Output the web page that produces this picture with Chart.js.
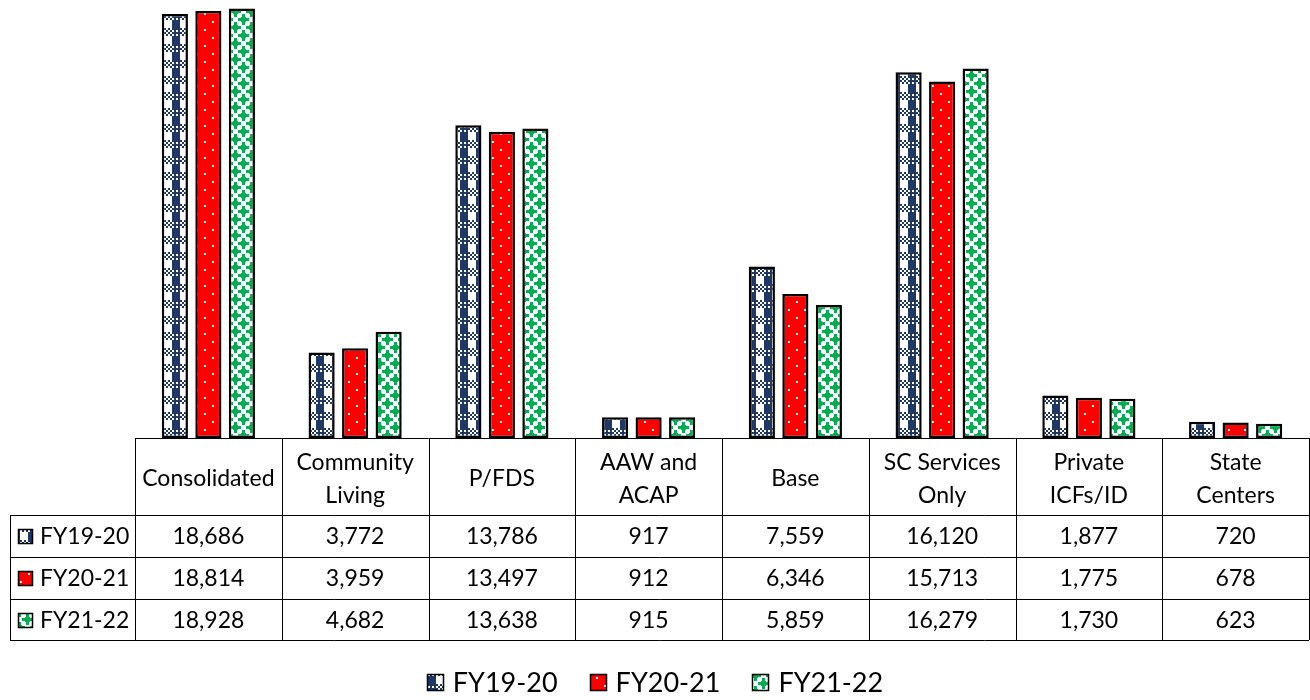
<!DOCTYPE html>
<html>
<head>
<meta charset="utf-8">
<script src="https://cdn.jsdelivr.net/npm/chart.js@4"></script>
<style>
  body { margin: 0; background: #fff; }
  canvas { display: block; }
</style>
</head>
<body>
<canvas id="bar-chart" width="1310" height="700"></canvas>
<script>
// ---- data ----
var categories = [['Consolidated'], ['Community', 'Living'], ['P/FDS'], ['AAW and', 'ACAP'],
                  ['Base'], ['SC Services', 'Only'], ['Private', 'ICFs/ID'], ['State', 'Centers']];
var seriesNames = ['FY19-20', 'FY20-21', 'FY21-22'];
var fy1920 = [18686, 3772, 13786, 917, 7559, 16120, 1877, 720];
var fy2021 = [18814, 3959, 13497, 912, 6346, 15713, 1775, 678];
var fy2122 = [18928, 4682, 13638, 915, 5859, 16279, 1730, 623];

var NAVY = '#1F3864', RED = '#FF0000', GREEN = '#00B050';

/*------------------
    Fill patterns
--------------------*/
function makeTile(draw) {
    var c = document.createElement('canvas');
    c.width = 16; c.height = 16;
    var g = c.getContext('2d');
    draw(g);
    return document.createElement('canvas').getContext('2d').createPattern(c, 'repeat');
}

// navy plaid
var plaid = makeTile(function (g) {
    g.fillStyle = '#fff'; g.fillRect(0, 0, 16, 16);
    g.fillStyle = NAVY;
    for (var y = 0; y < 16; y++) {
        for (var x = 0; x < 16; x++) {
            var inStripe = (x >= 12 || x < 4);
            var inBand = (y >= 12 || y < 4);
            var cx = Math.floor(x / 2), cy = Math.floor(y / 2);
            if (inBand) {
                if ((cx + cy) % 2 === 0 || (inStripe && cy % 2 === 0)) g.fillRect(x, y, 1, 1);
            } else if (inStripe) {
                g.fillRect(x, y, 1, 1);
            }
        }
    }
});

// red with sparse white dots
var dots = makeTile(function (g) {
    g.fillStyle = RED; g.fillRect(0, 0, 16, 16);
    g.fillStyle = '#fff';
    g.fillRect(4, 5, 2, 2);
    g.fillRect(12, 13, 2, 2);
});

// green star-diamonds on white
var diamonds = makeTile(function (g) {
    g.fillStyle = '#fff'; g.fillRect(0, 0, 16, 16);
    g.fillStyle = GREEN;
    var centres = [[3, 3], [11, 11]];
    centres.forEach(function (c) {
        for (var dy = -6; dy <= 6; dy++) {
            for (var dx = -6; dx <= 6; dx++) {
                var ax = Math.abs(dx), ay = Math.abs(dy);
                if (ax + ay <= 4 || (ay <= 1 && ax <= 5) || (ax <= 1 && ay <= 5)) {
                    g.fillRect((c[0] + dx + 16) % 16, (c[1] + dy + 16) % 16, 1, 1);
                }
            }
        }
    });
});

var fills = [plaid, dots, diamonds];
var seriesData = [fy1920, fy2021, fy2122];

/*------------------
    Table + legend
--------------------*/
var FONT = '"Lato", "Liberation Sans", sans-serif';

function swatch(ctx, x, y, s, i) {
    ctx.fillStyle = fills[i];
    ctx.fillRect(x, y, s, s);
    ctx.lineWidth = 1.5;
    ctx.strokeStyle = '#000';
    ctx.strokeRect(x + 0.5, y + 0.5, s - 1, s - 1);
}

var dataTable = {
    id: 'dataTable',
    afterDraw: function (chart) {
        var ctx = chart.ctx;
        var area = chart.chartArea;
        var n = categories.length;
        var colW = (area.right - area.left) / n;
        var top = area.bottom;
        var rows = [515, 557, 599, 640];
        var labelLeft = 10;

        ctx.save();
        ctx.strokeStyle = '#000';
        ctx.lineWidth = 1;
        ctx.beginPath();
        ctx.moveTo(area.left, top + 0.5);
        ctx.lineTo(area.right, top + 0.5);
        for (var i = 0; i <= n; i++) {
            var bx = Math.round(area.left + i * colW) + 0.5;
            ctx.moveTo(bx, top);
            ctx.lineTo(bx, rows[3]);
        }
        rows.forEach(function (ry) {
            ctx.moveTo(labelLeft, ry + 0.5);
            ctx.lineTo(area.right, ry + 0.5);
        });
        ctx.moveTo(labelLeft + 0.5, rows[0]);
        ctx.lineTo(labelLeft + 0.5, rows[3]);
        ctx.stroke();

        ctx.fillStyle = '#000';
        ctx.font = '23px ' + FONT;
        ctx.textAlign = 'center';
        ctx.textBaseline = 'middle';
        var xs = chart.scales.x;
        categories.forEach(function (lines, ci) {
            var cx = xs.getPixelForValue(ci);
            if (lines.length === 1) {
                ctx.fillText(lines[0], cx, 479);
            } else {
                ctx.fillText(lines[0], cx, 463);
                ctx.fillText(lines[1], cx, 496);
            }
            seriesData.forEach(function (arr, si) {
                var cy = (rows[si] + rows[si + 1]) / 2 + 1;
                ctx.fillStyle = '#000';
                ctx.fillText(arr[ci].toLocaleString('en-US'), cx, cy);
            });
        });

        // row labels
        ctx.textAlign = 'left';
        seriesNames.forEach(function (name, si) {
            var cy = (rows[si] + rows[si + 1]) / 2;
            swatch(ctx, 18, Math.round(cy - 7), 15, si);
            ctx.fillStyle = '#000';
            ctx.fillText(name, 40, cy + 1);
        });

        // bottom legend
        ctx.font = '27px ' + FONT;
        var box = 17, gap = 9, spacing = 32;
        var total = 0;
        var widths = seriesNames.map(function (name) {
            var w = box + gap + ctx.measureText(name).width;
            total += w;
            return w;
        });
        total += spacing * (seriesNames.length - 1);
        var lx = 655 - total / 2;
        seriesNames.forEach(function (name, si) {
            swatch(ctx, Math.round(lx), 674, box, si);
            ctx.fillStyle = '#000';
            ctx.fillText(name, lx + box + gap, 683);
            lx += widths[si] + spacing;
        });
        ctx.restore();
    }
};

/*------------------
    Chart
--------------------*/
var barChart = new Chart(document.getElementById('bar-chart').getContext('2d'), {
    type: 'bar',
    data: {
        labels: categories,
        datasets: seriesNames.map(function (name, i) {
            return {
                label: name,
                data: seriesData[i],
                backgroundColor: fills[i],
                borderColor: '#000',
                borderWidth: 2.5,
                borderSkipped: false,
                categoryPercentage: 0.685,
                barPercentage: 0.78
            };
        })
    },
    options: {
        responsive: false,
        animation: false,
        layout: { padding: { left: 135, right: 1, top: 0, bottom: 262 } },
        plugins: {
            legend: { display: false },
            tooltip: { enabled: false }
        },
        scales: {
            x: { display: false },
            y: { display: false, min: 0, max: 19300 }
        }
    },
    plugins: [dataTable]
});
</script>
</body>
</html>
